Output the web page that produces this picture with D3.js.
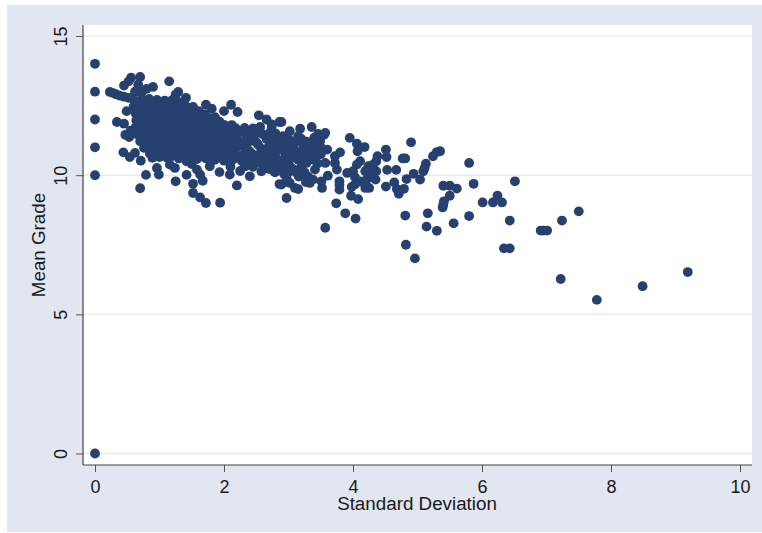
<!DOCTYPE html>
<html>
<head>
<meta charset="utf-8">
<script src="https://cdn.jsdelivr.net/npm/d3@7"></script>
<style>
  html, body { margin: 0; padding: 0; background: white; }
  text { font-family: "Liberation Sans", Arial, sans-serif; fill: #1a1a1a; }
</style>
</head>
<body>
<div id="viz-container"></div>
<script>
//tick labels
let xTicks = [0, 2, 4, 6, 8, 10];
let yTicks = [0, 5, 10, 15];

//points as [standard deviation, mean grade]
//the column at sd 0
let zeroPoints = [[0, 14], [0, 13], [0, 12], [0, 11], [0, 10], [0, 0]];

//loose points around the left cluster
let leftEdge = [
  [0.23, 12.99], [0.28, 12.95], [0.33, 12.9], [0.38, 12.86], [0.45, 12.82], [0.52, 12.78],
  [0.56, 13.5], [0.52, 13.37], [0.7, 13.53], [0.45, 13.22], [0.67, 13.25], [0.9, 13.17], [0.8, 13.1], [0.62, 13.0], [0.72, 12.95],
  [1.15, 13.37], [1.29, 12.99], [1.25, 12.9], [1.41, 12.78], [1.72, 12.53], [1.81, 12.39],
  [2.11, 12.53], [2.0, 12.3], [2.21, 12.27], [2.54, 12.15], [2.66, 12.0], [2.74, 11.82], [2.86, 11.91],
  [0.34, 11.91], [0.45, 11.85], [0.49, 12.3], [0.53, 11.37], [0.47, 11.45], [0.55, 11.6],
  [0.44, 10.82], [0.54, 10.65], [0.71, 10.52], [0.89, 10.62], [1.0, 10.65], [0.62, 10.8],
  [0.96, 10.26], [0.99, 10.02], [0.79, 10.01], [0.7, 9.53], [1.25, 9.78], [1.42, 10.01],
  [1.52, 9.69], [1.52, 9.36], [1.63, 9.2], [1.72, 9.0], [1.94, 9.01], [1.67, 9.8], [1.63, 10.02], [1.58, 10.2],
  [1.16, 10.38], [1.24, 10.26], [1.78, 10.32], [1.93, 10.11], [2.09, 10.02], [2.2, 9.63],
  [2.4, 9.96], [2.58, 10.14], [2.79, 10.1], [2.86, 9.68], [2.33, 10.32], [1.5, 10.4], [1.42, 10.5],
  [2.1, 10.3], [2.25, 10.15], [2.45, 10.3], [2.62, 10.35], [2.7, 10.22]
];

//the solid part of the cluster, row by row
let clusterCore = [
  [0.6, 12.72], [0.72, 12.7], [0.84, 12.74], [0.96, 12.7], [1.08, 12.68], [1.2, 12.7], [1.3, 12.62],
  [0.6, 12.47], [0.71, 12.45], [0.83, 12.48], [0.95, 12.44], [1.07, 12.47], [1.19, 12.45], [1.31, 12.47], [1.43, 12.44], [1.52, 12.45],
  [0.63, 12.22], [0.74, 12.2], [0.86, 12.23], [0.98, 12.19], [1.1, 12.22], [1.22, 12.2], [1.34, 12.22], [1.46, 12.19], [1.58, 12.22], [1.7, 12.18],
  [0.64, 11.97], [0.75, 11.95], [0.87, 11.98], [0.99, 11.94], [1.11, 11.97], [1.23, 11.95], [1.35, 11.97], [1.47, 11.94], [1.59, 11.97], [1.71, 11.94], [1.83, 11.96], [1.93, 11.92],
  [0.63, 11.72], [0.74, 11.7], [0.86, 11.73], [0.98, 11.69], [1.1, 11.72], [1.22, 11.7], [1.34, 11.72], [1.46, 11.69], [1.58, 11.72], [1.7, 11.69], [1.82, 11.71], [1.94, 11.68], [2.06, 11.72], [2.18, 11.69], [2.32, 11.7], [2.45, 11.68], [2.56, 11.73],
  [0.65, 11.47], [0.76, 11.45], [0.88, 11.48], [1.0, 11.44], [1.12, 11.47], [1.24, 11.45], [1.36, 11.47], [1.48, 11.44], [1.6, 11.47], [1.72, 11.44], [1.84, 11.46], [1.96, 11.43], [2.08, 11.47], [2.2, 11.44], [2.34, 11.46], [2.47, 11.43], [2.6, 11.47], [2.68, 11.4],
  [0.7, 11.22], [0.81, 11.2], [0.93, 11.23], [1.05, 11.19], [1.17, 11.22], [1.29, 11.2], [1.41, 11.22], [1.53, 11.19], [1.65, 11.22], [1.77, 11.19], [1.89, 11.21], [2.01, 11.18], [2.13, 11.22], [2.26, 11.19], [2.39, 11.21], [2.5, 11.18],
  [0.76, 10.98], [0.87, 10.96], [0.99, 10.99], [1.11, 10.95], [1.23, 10.98], [1.35, 10.96], [1.47, 10.98], [1.59, 10.95], [1.71, 10.98], [1.83, 10.95], [1.95, 10.97], [2.07, 10.94], [2.19, 10.98], [2.33, 10.95], [2.58, 10.94], [2.68, 10.98],
  [0.85, 10.78], [0.97, 10.8], [1.09, 10.77], [1.21, 10.8], [1.33, 10.78], [1.45, 10.8], [1.57, 10.76], [1.69, 10.78], [1.81, 10.74], [1.93, 10.78], [2.05, 10.74], [2.17, 10.78], [2.3, 10.74], [2.43, 10.78], [2.55, 10.75], [2.65, 10.72],
  [1.12, 10.62], [1.3, 10.6], [1.43, 10.62], [1.58, 10.58], [1.72, 10.6], [1.86, 10.55], [2.0, 10.52], [2.14, 10.56], [2.28, 10.5], [2.42, 10.54], [2.55, 10.45], [2.68, 10.5]
];

//in between rows of the cluster, so no white shows through
let clusterFill = [
  [0.66, 12.58], [0.78, 12.6], [0.9, 12.57], [1.02, 12.6], [1.14, 12.58], [1.26, 12.55], [1.38, 12.56],
  [0.66, 12.33], [0.77, 12.35], [0.89, 12.32], [1.01, 12.34], [1.13, 12.33], [1.25, 12.35], [1.37, 12.32], [1.49, 12.34], [1.61, 12.3],
  [0.69, 12.08], [0.8, 12.1], [0.92, 12.07], [1.04, 12.09], [1.16, 12.08], [1.28, 12.1], [1.4, 12.07], [1.52, 12.09], [1.64, 12.08], [1.76, 12.06], [1.86, 12.08],
  [0.69, 11.83], [0.8, 11.85], [0.92, 11.82], [1.04, 11.84], [1.16, 11.83], [1.28, 11.85], [1.4, 11.82], [1.52, 11.84], [1.64, 11.83], [1.76, 11.82], [1.88, 11.84], [2.0, 11.81], [2.12, 11.8],
  [0.7, 11.58], [0.81, 11.6], [0.93, 11.57], [1.05, 11.59], [1.17, 11.58], [1.29, 11.6], [1.41, 11.57], [1.53, 11.59], [1.65, 11.58], [1.77, 11.57], [1.89, 11.59], [2.01, 11.56], [2.13, 11.58], [2.25, 11.56], [2.39, 11.58], [2.52, 11.56],
  [0.74, 11.33], [0.85, 11.35], [0.97, 11.32], [1.09, 11.34], [1.21, 11.33], [1.33, 11.35], [1.45, 11.32], [1.57, 11.34], [1.69, 11.33], [1.81, 11.32], [1.93, 11.34], [2.05, 11.31], [2.17, 11.33], [2.44, 11.33], [2.66, 11.3],
  [0.81, 11.1], [0.93, 11.08], [1.05, 11.11], [1.17, 11.08], [1.29, 11.1], [1.41, 11.08], [1.53, 11.1], [1.65, 11.08], [1.77, 11.09], [1.89, 11.07], [2.01, 11.08], [2.13, 11.06], [2.25, 11.09], [2.53, 11.09],
  [0.91, 10.88], [1.03, 10.87], [1.15, 10.89], [1.27, 10.87], [1.39, 10.89], [1.51, 10.86], [1.63, 10.88], [1.75, 10.86], [1.87, 10.87], [1.99, 10.85], [2.11, 10.86], [2.39, 10.87], [2.62, 10.86],
  [1.2, 10.69], [1.38, 10.7], [1.51, 10.68], [1.65, 10.68], [1.78, 10.66], [1.92, 10.64], [2.08, 10.64], [2.22, 10.62], [2.36, 10.64], [2.49, 10.6], [2.62, 10.6]
];

//middle stretch, sd about 2.7 to 5.4
let midPoints = [
  [2.89, 11.91], [3.36, 11.73], [3.18, 11.67], [3.57, 11.52], [3.46, 11.48], [3.49, 11.22], [3.38, 11.1],
  [3.95, 11.34], [4.06, 11.13], [4.18, 11.01], [4.07, 10.86], [3.8, 10.82], [3.72, 10.68], [3.6, 10.92],
  [4.51, 10.92], [4.52, 10.65], [4.9, 11.18], [5.24, 10.68], [5.3, 10.83], [5.35, 10.86],
  [4.77, 10.6], [4.81, 10.6], [4.38, 10.68], [4.36, 10.5], [4.31, 10.38], [4.36, 10.14], [4.35, 9.84],
  [4.24, 10.32], [4.19, 10.14], [4.26, 10.02], [4.11, 10.5], [4.06, 10.38], [4.0, 10.14], [3.91, 10.08],
  [4.03, 9.93], [4.11, 9.78], [4.21, 9.84], [3.61, 9.98], [3.52, 9.54], [3.51, 9.78], [3.38, 9.84],
  [3.33, 9.72], [3.27, 9.75], [3.15, 9.5], [3.1, 9.54], [3.75, 10.2], [3.72, 10.44], [3.57, 10.44],
  [3.41, 10.2], [3.38, 10.56], [2.89, 9.66], [2.97, 9.9], [3.13, 10.08], [3.02, 10.32], [2.87, 10.44],
  [3.02, 10.92], [3.15, 11.4], [2.92, 11.4], [3.02, 11.58], [3.23, 10.92], [3.31, 10.68], [2.82, 11.04],
  [2.71, 10.8], [2.74, 11.76], [3.1, 11.16], [3.28, 10.44], [3.23, 11.1], [2.95, 10.68], [3.18, 10.8],
  [2.76, 10.38], [2.87, 10.92], [3.05, 10.62], [2.97, 11.16], [2.97, 9.18], [3.57, 8.11], [3.74, 8.99],
  [3.88, 8.63], [4.04, 8.44], [4.08, 9.14], [3.97, 9.26], [3.98, 9.58], [4.03, 9.66], [4.19, 9.54], [4.25, 9.54],
  [3.79, 9.78], [3.79, 9.66], [3.79, 9.48], [4.51, 9.59], [4.64, 9.74], [4.68, 9.5], [4.71, 9.33], [4.79, 9.51],
  [4.83, 9.86], [4.94, 10.05], [5.04, 9.84], [5.09, 10.14], [5.11, 10.26], [5.13, 10.41], [4.53, 10.19], [4.67, 10.19],
  [2.8, 10.65], [2.85, 11.25], [3.0, 10.1], [3.1, 10.9], [3.2, 10.3], [3.45, 10.85],
  //the mass just right of sd 2.7
  [2.72, 11.55], [2.8, 11.5], [2.88, 11.2], [2.78, 11.3], [2.72, 11.1], [2.9, 11.05], [2.95, 10.85], [2.78, 10.9], [2.92, 10.55], [2.83, 10.2],
  [3.0, 11.3], [3.05, 11.05], [3.12, 11.25], [3.08, 10.72], [3.0, 10.5], [3.15, 10.55], [3.2, 11.3], [3.28, 11.2], [3.3, 11.02], [3.35, 10.9],
  [3.25, 10.7], [3.4, 11.35], [3.5, 11.0], [3.55, 11.45], [3.42, 10.65], [3.5, 10.75], [2.9, 10.25], [2.93, 10.05], [3.07, 10.22], [3.16, 9.95], [3.02, 9.72],
  [3.25, 10.1], [3.45, 10.42], [3.3, 9.95]
];

//sparse tail on the right
let tailPoints = [
  [5.8, 10.44], [5.87, 9.69], [5.4, 9.62], [5.5, 9.62], [5.61, 9.52], [5.5, 9.26], [5.41, 9.06], [5.39, 8.84], [5.4, 8.95],
  [5.16, 8.63], [4.81, 8.55], [5.14, 8.15], [5.3, 8.0], [5.56, 8.27], [5.8, 8.53], [4.82, 7.5], [4.96, 7.01],
  [6.51, 9.78], [6.24, 9.26], [6.01, 9.02], [6.17, 9.02], [6.31, 9.02], [6.43, 8.37], [7.5, 8.7], [7.24, 8.37],
  [6.91, 8.01], [6.95, 8.01], [7.01, 8.01], [6.34, 7.37], [6.43, 7.37], [7.22, 6.27], [7.78, 5.52], [8.49, 6.01], [9.19, 6.52]
];

let allPoints = zeroPoints.concat(leftEdge, clusterCore, clusterFill, midPoints, tailPoints);

let viz = d3.select("#viz-container")
    .append("svg")
    .attr("id", "viz")
    .attr("width", 762)
    .attr("height", 533)
    .style("display", "block");

//the stata style panel and white plot area
viz.append("rect")
    .attr("x", 7).attr("y", 5)
    .attr("width", 755).attr("height", 527)
    .attr("fill", "#e1e6f0");

let plotLeft = 83, plotRight = 752, plotTop = 25, plotBottom = 465;

viz.append("rect")
    .attr("x", plotLeft).attr("y", plotTop)
    .attr("width", plotRight - plotLeft).attr("height", plotBottom - plotTop)
    .attr("fill", "white");

let xScale = d3.scaleLinear().domain([0, 10]).range([95, 740]);
let yScale = d3.scaleLinear().domain([0, 15]).range([453.5, 36]);

//gridlines
viz.selectAll(".grid").data(yTicks).enter().append("line")
    .attr("class", "grid")
    .attr("x1", plotLeft)
    .attr("x2", plotRight)
    .attr("y1", d => yScale(d))
    .attr("y2", d => yScale(d))
    .attr("stroke", "#e6eaf3")
    .attr("stroke-width", 1.5);

//axes
let xAxis = d3.axisBottom(xScale).tickValues(xTicks).tickSize(7).tickPadding(8).tickSizeOuter(0);
let yAxis = d3.axisLeft(yScale).tickValues(yTicks).tickSize(7).tickPadding(6).tickSizeOuter(0);

let xGroup = viz.append("g").attr("transform", "translate(0," + plotBottom + ")").call(xAxis);
let yGroup = viz.append("g").attr("transform", "translate(" + plotLeft + ",0)").call(yAxis);

xGroup.select(".domain").remove();
yGroup.select(".domain").remove();
xGroup.selectAll("line").attr("stroke", "#555");
yGroup.selectAll("line").attr("stroke", "#555");
xGroup.selectAll("text").style("font-size", "18px").style("fill", "#1a1a1a");
//rotate the y labels, the tick group already sits at the right height
yGroup.selectAll("text")
    .style("font-size", "18px")
    .style("fill", "#1a1a1a")
    .attr("text-anchor", "middle")
    .attr("dy", 0)
    .attr("x", 0)
    .attr("y", 0)
    .attr("transform", "translate(-16.5,0) rotate(-90)");

viz.append("line")
    .attr("x1", plotLeft).attr("x2", plotLeft)
    .attr("y1", plotTop).attr("y2", plotBottom)
    .attr("stroke", "#444").attr("stroke-width", 1.2);
viz.append("line")
    .attr("x1", plotLeft).attr("x2", plotRight)
    .attr("y1", plotBottom).attr("y2", plotBottom)
    .attr("stroke", "#444").attr("stroke-width", 1.2);

//markers
viz.selectAll(".dot").data(allPoints).enter().append("circle")
    .attr("class", "dot")
    .attr("cx", d => xScale(d[0]))
    .attr("cy", d => yScale(d[1]))
    .attr("r", 4.9)
    .attr("fill", "#26406f");

//axis titles
viz.append("text")
    .text("Standard Deviation")
    .attr("x", 417)
    .attr("y", 510)
    .attr("text-anchor", "middle")
    .style("font-size", "18.8px");

viz.append("text")
    .text("Mean Grade")
    .attr("transform", "translate(45,245) rotate(-90)")
    .attr("text-anchor", "middle")
    .style("font-size", "18.8px");
</script>
</body>
</html>
